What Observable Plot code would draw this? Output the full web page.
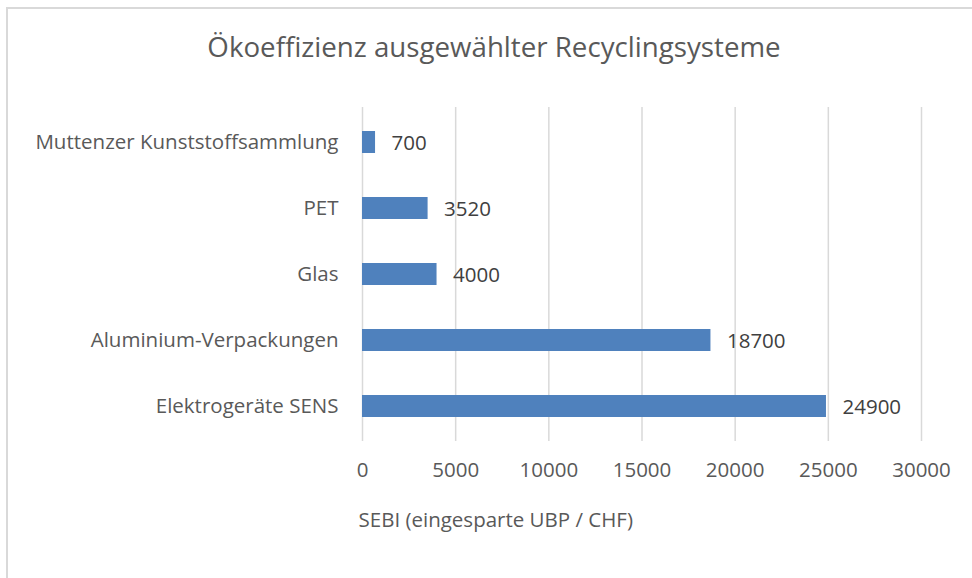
<!DOCTYPE html>
<html>
<head>
<meta charset="utf-8">
<script src="https://cdn.jsdelivr.net/npm/d3@7"></script>
<script src="https://cdn.jsdelivr.net/npm/@observablehq/plot@0.6"></script>
<style>
  html, body { margin: 0; padding: 0; background: #fff; }
  #wrap { position: relative; width: 972px; height: 578px; overflow: hidden; }
  #frame { position: absolute; left: 6px; top: 7px; width: 980px; height: 600px;
           border-left: 2px solid #d9d9d9; border-top: 2px solid #d9d9d9; box-sizing: border-box; }
  #chart { position: absolute; left: 0; top: 0; }
</style>
</head>
<body>
<div id="wrap"><div id="frame"></div><div id="chart"></div></div>
<script>
const categories = ["Muttenzer Kunststoffsammlung", "PET", "Glas", "Aluminium-Verpackungen", "Elektrogeräte SENS"];
const values = [700, 3520, 4000, 18700, 24900];
const xTicks = [0, 5000, 10000, 15000, 20000, 25000, 30000];
const title = "Ökoeffizienz ausgewählter Recyclingsysteme";
const xLabel = "SEBI (eingesparte UBP / CHF)";

const data = categories.map((c, i) => ({category: c, value: values[i]}));
const font = "'Open Sans', Lato, sans-serif";
const gray = "#595959";

const chart = Plot.plot({
  width: 972,
  height: 578,
  marginLeft: 362,
  marginRight: 51,
  marginTop: 107,
  marginBottom: 137,
  style: {fontFamily: font, background: "transparent", color: gray},
  x: {domain: [0, 30000], ticks: xTicks},
  y: {domain: categories, paddingInner: 0.66, paddingOuter: 0.33},
  marks: [
    Plot.gridX(xTicks, {stroke: "#d9d9d9", strokeOpacity: 1, strokeWidth: 1.5}),
    Plot.barX(data, {x: "value", y: "category", fill: "#4f81bd"}),
    Plot.text(data, {x: "value", y: "category", text: d => String(d.value), textAnchor: "start", dx: 16, dy: 1, fontSize: 20.5, fill: "#404040"}),
    Plot.axisX({ticks: xTicks, tickSize: 0, tickPadding: 21, fontSize: 20.5, tickFormat: d => String(d), label: null, color: gray}),
    Plot.axisY({tickSize: 0, tickPadding: 24, fontSize: 20.5, label: null, color: gray}),
    Plot.text([title], {frameAnchor: "top", dx: -148, dy: -59, fontSize: 27.7, fill: gray, lineAnchor: "middle"}),
    Plot.text([xLabel], {frameAnchor: "bottom-left", textAnchor: "start", dx: -4, dy: 79, fontSize: 20.5, fill: gray, lineAnchor: "middle"})
  ]
});
document.getElementById("chart").appendChild(chart);
</script>
</body>
</html>
